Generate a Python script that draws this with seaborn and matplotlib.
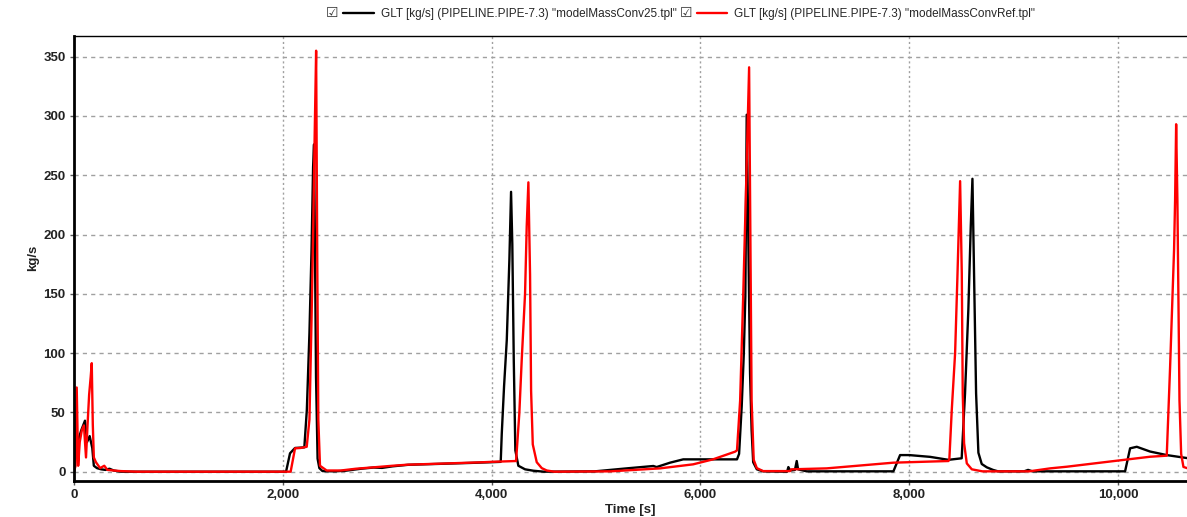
import numpy as np
import pandas as pd
import matplotlib
matplotlib.use("Agg")
import matplotlib.pyplot as plt
import seaborn as sns

# GLT mass flow at PIPELINE.PIPE-7.3, two model runs
conv25_time = [0, 10, 25, 45, 70, 105, 125, 150, 175, 190, 220, 260, 300, 340, 380, 450,
               2031, 2069, 2117, 2206, 2230, 2255, 2275, 2290, 2299, 2308, 2318, 2333, 2350, 2380,
               2420, 2500, 2600, 2750, 2870, 2950, 3050, 3200, 3500, 3800, 4000, 4087,
               4097, 4119, 4145, 4170, 4186, 4198, 4212, 4227, 4256, 4320, 4400, 4500,
               4990, 5294, 5549, 5580, 5709, 5835, 6350, 6370, 6395, 6415, 6430, 6443, 6458,
               6475, 6490, 6505, 6540, 6600, 6830, 6842, 6860, 6905, 6922, 6935, 7017,
               7848, 7912, 8000, 8200, 8375, 8502, 8534, 8566, 8589, 8605, 8621, 8640, 8662,
               8694, 8742, 8802, 8850, 9100, 9138, 9180, 10067, 10115, 10179, 10306, 10466,
               10620, 10660]
conv25_flow = [0, 40, 22, 28, 35, 43, 25, 30, 20, 5, 3, 2, 1.5, 2.5, 1, 0,
               0, 15.5, 20, 20.5, 52, 117, 187, 257, 276, 187, 80, 11, 3, 0.5,
               0.4, 0.3, 0.8, 2.5, 3.5, 3.2, 4.5, 5.8, 6.6, 7.4, 8, 8.3,
               32, 72, 111, 179, 236, 192, 94, 18, 5, 2, 0.8, 0,
               0.3, 2.8, 4.8, 3.9, 7.6, 10.4, 10.4, 15, 55, 99, 148, 301, 200,
               83, 35, 8, 2, 0.3, 0, 3.9, 1, 1.5, 9, 2, 0.3,
               0.3, 14, 14, 12.5, 10, 11.3, 66, 137, 207, 247, 164, 66, 16,
               6.5, 3.7, 1.5, 0.3, 0.3, 1.5, 0.3, 0.3, 19.7, 21, 17, 14,
               12, 11.5]

ref_time = [0, 15, 26, 40, 55, 75, 95, 115, 130, 145, 160, 170, 180, 190, 210, 250,
            290, 320, 380, 450, 600, 2075, 2117, 2170, 2229, 2255, 2275, 2290, 2305, 2319,
            2330, 2340, 2356, 2420, 2556, 2700, 2873, 3050, 3195, 3514, 3897, 4000, 4234,
            4265, 4288, 4320, 4336, 4352, 4368, 4378, 4394, 4432, 4480, 4528, 4600,
            5141, 5613, 5930, 6120, 6332, 6350, 6380, 6410, 6440, 6466, 6478, 6490, 6510,
            6540, 6600, 6858, 6870, 7209, 7848, 8375, 8384, 8407, 8439, 8461, 8487, 8503,
            8512, 8525, 8551, 8599, 8700, 9150, 9349, 9510, 9906, 10306, 10466, 10498,
            10536, 10546, 10556, 10568, 10588, 10604, 10626, 10661]
ref_flow = [0, 5, 71, 5, 25, 35, 39, 12, 40, 65, 80, 91.5, 40, 12, 8, 3,
            5, 1.5, 1, 0.5, 0, 0, 19.7, 20, 21, 44, 128, 198, 283, 355,
            177, 44, 5, 1, 1, 2.5, 3.7, 5, 5.9, 6.8, 7.9, 8.3, 9,
            49, 94, 150, 207, 244, 166, 68, 23, 8, 3, 1, 0,
            0.3, 2.8, 6.2, 10.4, 16.9, 18, 60, 150, 250, 341, 200, 60, 10,
            3, 0.5, 0.5, 2, 2.8, 7.6, 9, 10.7, 52, 100, 164, 245, 167,
            66, 24, 7, 2, 0.3, 0.3, 2.8, 4.2, 8.4, 12.6, 13.5, 88,
            187, 229, 293, 229, 60, 15, 4, 3]

run_labels = ['GLT [kg/s] (PIPELINE.PIPE-7.3) "modelMassConv25.tpl"',
              'GLT [kg/s] (PIPELINE.PIPE-7.3) "modelMassConvRef.tpl"']
x_ticks = [0, 2000, 4000, 6000, 8000, 10000]
y_ticks = [0, 50, 100, 150, 200, 250, 300, 350]

df = pd.concat([
    pd.DataFrame({"Time [s]": conv25_time, "kg/s": conv25_flow, "run": run_labels[0]}),
    pd.DataFrame({"Time [s]": ref_time, "kg/s": ref_flow, "run": run_labels[1]}),
], ignore_index=True)

sns.set_theme(style="white")
plt.rcParams["font.family"] = ["Liberation Sans", "DejaVu Sans"]

fig = plt.figure(figsize=(11.87, 5.17), dpi=100)
ax = fig.add_axes([74 / 1187, 1 - 480.7 / 517, 1 - 74 / 1187, (480.7 - 36) / 517])

sns.lineplot(data=df, x="Time [s]", y="kg/s", hue="run", hue_order=run_labels,
             palette=["#000000", "#ff0000"], estimator=None, sort=False,
             linewidth=1.7, ax=ax, legend=True)

ax.set_xlim(0, 10660)
ax.set_ylim(-7.6, 367.4)
ax.set_xticks(x_ticks)
ax.set_xticklabels([f"{t:,}" for t in x_ticks])
ax.set_yticks(y_ticks)
ax.set_yticklabels([str(v) for v in y_ticks])

# grid: dashed horizontals, dotted verticals
for v in y_ticks:
    ax.axhline(v, color="#a0a0a0", lw=1, ls=(0, (3, 3)), zorder=0)
for t in x_ticks[1:]:
    ax.axvline(t, color="#a0a0a0", lw=1, ls=(0, (1.5, 2)), zorder=0)

for side in ["left", "bottom"]:
    ax.spines[side].set_color("black")
    ax.spines[side].set_linewidth(2)
ax.spines["top"].set_color("black")
ax.spines["top"].set_linewidth(1)
ax.spines["right"].set_visible(False)

ax.tick_params(axis="both", which="major", length=3, width=1, color="#555555",
               labelsize=9.5, labelcolor="#222222", pad=3, bottom=True, left=True)
for lab in ax.get_xticklabels() + ax.get_yticklabels():
    lab.set_fontweight("bold")

ax.set_xlabel("Time [s]", fontsize=9.5, fontweight="bold", color="#222222", labelpad=2)
ax.set_ylabel("kg/s", fontsize=9.5, fontweight="bold", color="#222222", labelpad=3)

handles, labels = ax.get_legend_handles_labels()
ax.get_legend().remove()
leg = fig.legend(handles, labels, loc="center", bbox_to_anchor=(0.5805, 1 - 14 / 517),
                 ncol=2, frameon=False, fontsize=8.5, handlelength=2.6,
                 handletextpad=0.55, columnspacing=1.7, borderaxespad=0)
for h in leg.get_lines():
    h.set_linewidth(1.7)

# checkbox in front of each legend entry
fig.canvas.draw()
renderer = fig.canvas.get_renderer()
inv = fig.transFigure.inverted()
for line in leg.get_lines():
    bb = line.get_window_extent(renderer)
    x0, y0 = inv.transform((bb.x0 - 11, (bb.y0 + bb.y1) / 2))
    fig.text(x0, y0, "\u2611", ha="center", va="center", fontsize=10,
             family="DejaVu Sans", color="#333333")

fig.savefig("out.png", dpi=100)
